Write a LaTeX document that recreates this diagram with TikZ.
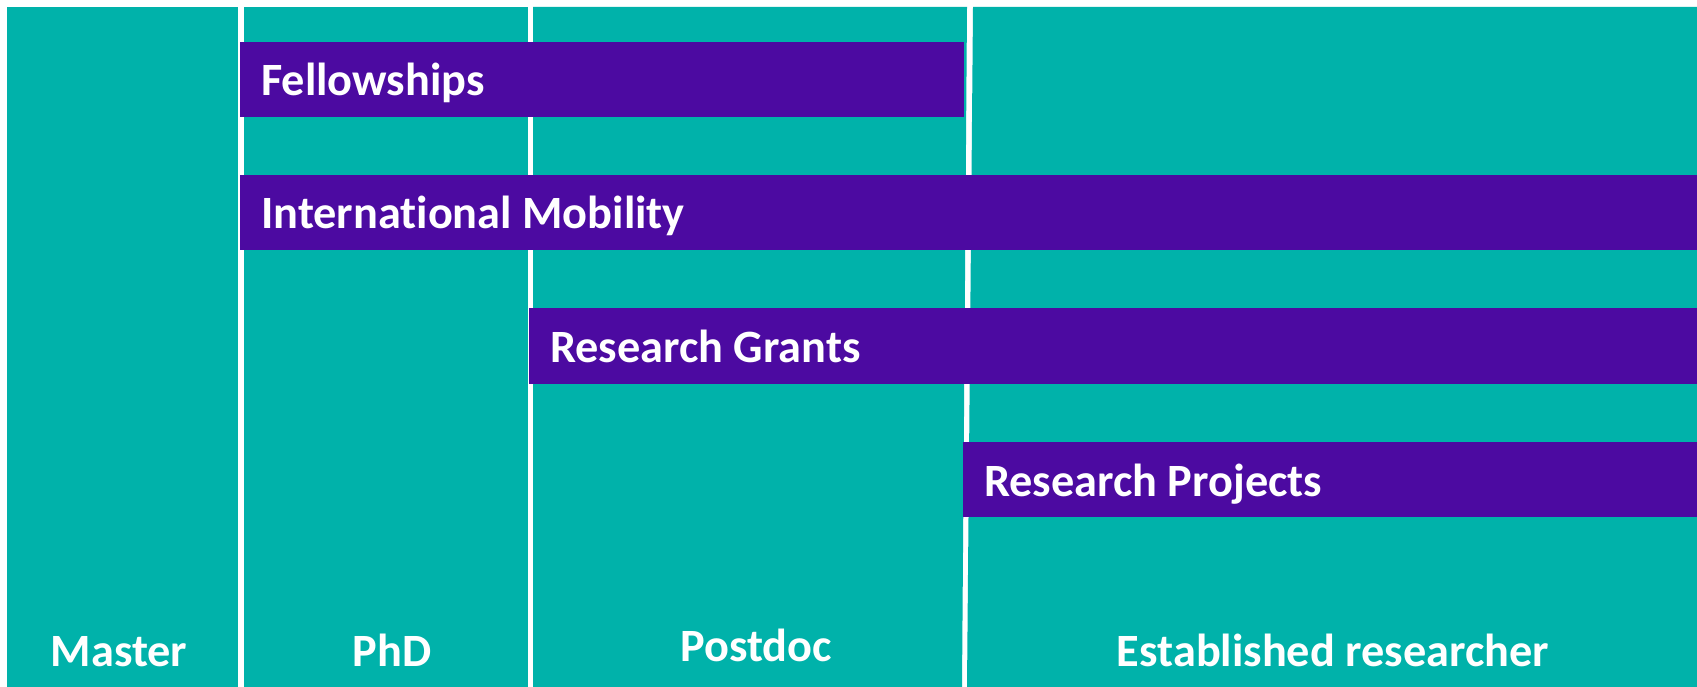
\documentclass[tikz,border=0pt]{standalone}
\usepackage{fontspec}
\setmainfont{Carlito}[Ligatures=NoCommon]
\definecolor{teal1}{RGB}{0,178,170}
\definecolor{purp}{RGB}{76,10,161}
\tikzset{
  col/.style={fill=teal1},
  bar/.style={fill=purp},
  barlabel/.style={anchor=base west, text=white, font=\fontsize{46.3}{55}\selectfont\bfseries, inner sep=0pt},
  collabel/.style={anchor=base, text=white, font=\fontsize{46.3}{55}\selectfont\bfseries, inner sep=0pt}
}
\begin{document}
\begin{tikzpicture}[x=1pt,y=-1pt]
\useasboundingbox (0,0) rectangle (1697,687);
\fill[white] (0,0) rectangle (1697,687);
% columns
\fill[col] (7,7) -- (238,7) -- (238,687) -- (7,687) -- cycle;
\fill[col] (244,7) -- (528,7) -- (528,687) -- (244,687) -- cycle;
\fill[col] (533,7) -- (967,7) -- (962,687) -- (533,687) -- cycle;
\fill[col] (973,7) -- (1697,7) -- (1697,687) -- (967,687) -- cycle;
% bars
\fill[bar] (240,42) rectangle (964,117);
\fill[bar] (240,175) rectangle (1697,250);
\fill[bar] (529,308) rectangle (1697,384);
\fill[bar] (963,442) rectangle (1697,517);
\node[barlabel] (fel) at (261,96) {Fellowships};
\node[barlabel] (mob) at (261,229) {International Mobility};
\node[barlabel] (gra) at (550,362) {Research Grants};
\node[barlabel] (pro) at (984,496) {Research Projects};
% column labels
\node[collabel] (mas) at (119,666) {Master};
\node[collabel] (phd) at (392,666) {PhD};
\node[collabel] (pos) at (756,661) {Postdoc};
\node[collabel] (est) at (1333,666) {Established researcher};
\end{tikzpicture}
\end{document}
